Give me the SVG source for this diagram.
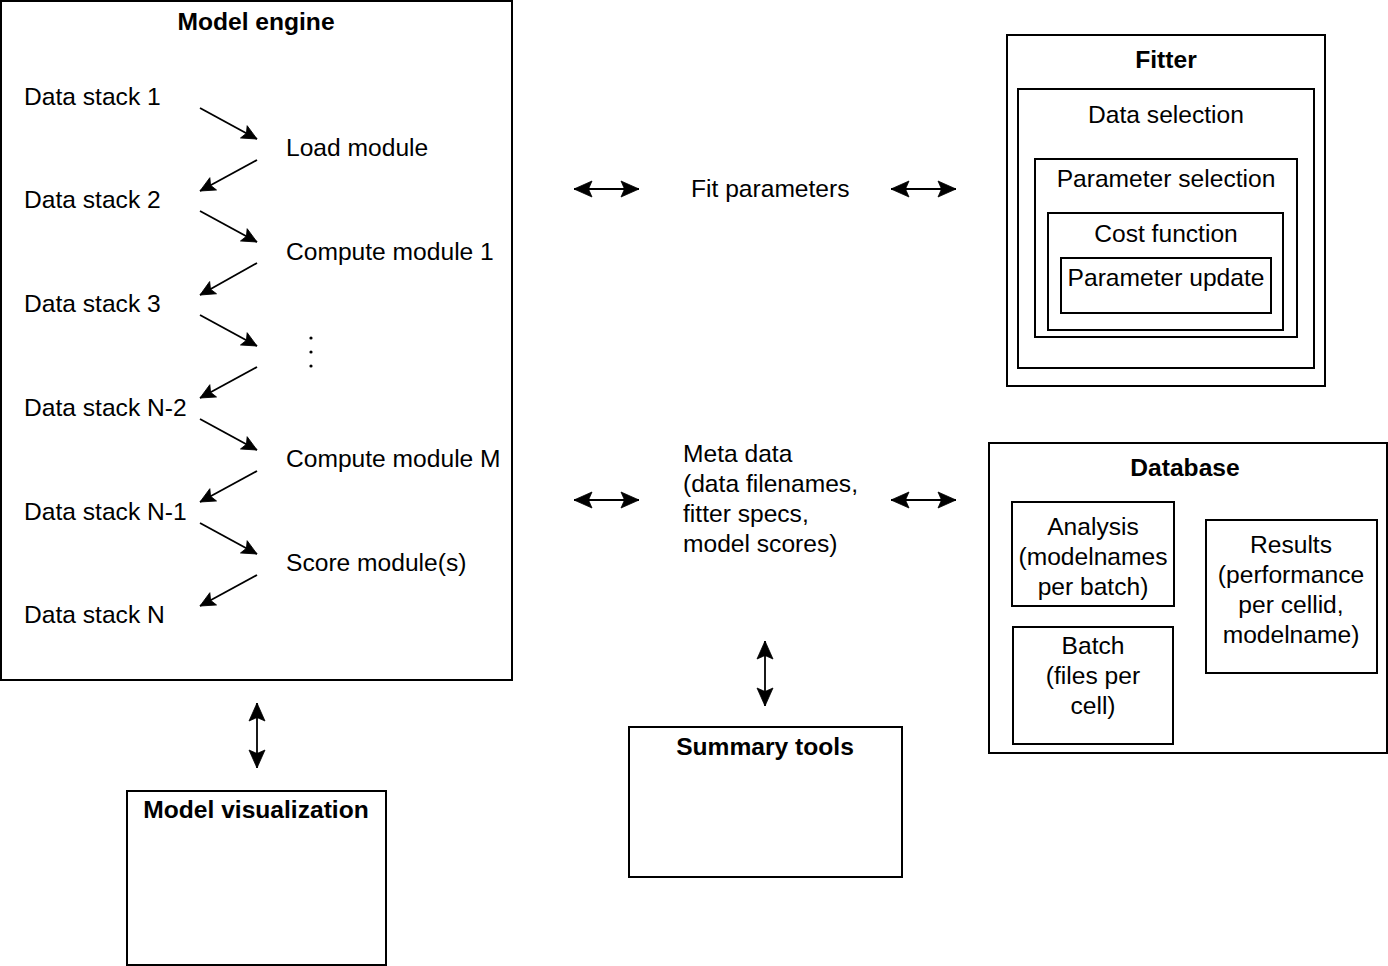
<svg xmlns="http://www.w3.org/2000/svg" width="1388" height="966" viewBox="0 0 1388 966">
<defs>
<style>
text{font-family:"Liberation Sans",Arial,Helvetica,sans-serif;font-size:24.6px;fill:#000}
.b{font-weight:bold}
.c{text-anchor:middle}
.box{fill:#fff;stroke:#000;stroke-width:2}
.ln{stroke:#000;stroke-width:1.8;fill:none}
.sm{marker-end:url(#hs)}
.dbl{marker-start:url(#hl);marker-end:url(#hl)}
</style>
<marker id="hs" viewBox="-16 -8 17 16" refX="0" refY="0" markerWidth="17" markerHeight="16" markerUnits="userSpaceOnUse" orient="auto">
<path d="M0,0 L-15,-7 L-12,0 L-15,7 Z" fill="#000" stroke="#000" stroke-width="0.8" stroke-linejoin="miter"/>
</marker>
<marker id="hl" viewBox="-20 -10 21 20" refX="0" refY="0" markerWidth="21" markerHeight="20" markerUnits="userSpaceOnUse" orient="auto-start-reverse">
<path d="M0,0 L-18,-8 L-14.5,0 L-18,8 Z" fill="#000" stroke="#000" stroke-width="0.8" stroke-linejoin="miter"/>
</marker>
</defs>
<rect width="1388" height="966" fill="#fff"/>

<g id="model-engine">
<rect class="box" x="1" y="1" width="511" height="679"/>
<text class="b c" x="256" y="30">Model engine</text>
<text x="24" y="105">Data stack 1</text>
<text x="24" y="208">Data stack 2</text>
<text x="24" y="312">Data stack 3</text>
<text x="24" y="416">Data stack N-2</text>
<text x="24" y="520">Data stack N-1</text>
<text x="24" y="623">Data stack N</text>
<text x="286" y="156">Load module</text>
<text x="286" y="260">Compute module 1</text>
<circle cx="311" cy="338" r="1.6" fill="#000"/>
<circle cx="311" cy="352" r="1.6" fill="#000"/>
<circle cx="311" cy="366" r="1.6" fill="#000"/>
<text x="286" y="467">Compute module M</text>
<text x="286" y="571">Score module(s)</text>
</g>

<g id="fit-parameters">
<text x="691" y="197">Fit parameters</text>
</g>

<g id="meta-data">
<text x="683" y="462">Meta data</text>
<text x="683" y="492">(data filenames,</text>
<text x="683" y="522">fitter specs,</text>
<text x="683" y="552">model scores)</text>
</g>

<g id="fitter">
<rect class="box" x="1007" y="35" width="318" height="351"/>
<text class="b c" x="1166" y="68">Fitter</text>
<g id="data-selection">
<rect class="box" x="1018" y="89" width="296" height="279"/>
<text class="c" x="1166" y="123">Data selection</text>
</g>
<g id="parameter-selection">
<rect class="box" x="1035" y="159" width="262" height="178"/>
<text class="c" x="1166" y="187">Parameter selection</text>
</g>
<g id="cost-function">
<rect class="box" x="1048" y="213" width="235" height="117"/>
<text class="c" x="1166" y="242">Cost function</text>
</g>
<g id="parameter-update">
<rect class="box" x="1061" y="258" width="210" height="55"/>
<text class="c" x="1166" y="286">Parameter update</text>
</g>
</g>

<g id="database">
<rect class="box" x="989" y="443" width="398" height="310"/>
<text class="b c" x="1185" y="476">Database</text>
<g id="analysis">
<rect class="box" x="1012" y="502" width="162" height="104"/>
<text class="c" x="1093" y="535">Analysis</text>
<text class="c" x="1093" y="565">(modelnames</text>
<text class="c" x="1093" y="595">per batch)</text>
</g>
<g id="batch">
<rect class="box" x="1013" y="627" width="160" height="117"/>
<text class="c" x="1093" y="654">Batch</text>
<text class="c" x="1093" y="684">(files per</text>
<text class="c" x="1093" y="714">cell)</text>
</g>
<g id="results">
<rect class="box" x="1206" y="520" width="171" height="153"/>
<text class="c" x="1291" y="553">Results</text>
<text class="c" x="1291" y="583">(performance</text>
<text class="c" x="1291" y="613">per cellid,</text>
<text class="c" x="1291" y="643">modelname)</text>
</g>
</g>

<g id="model-visualization">
<rect class="box" x="127" y="791" width="259" height="174"/>
<text class="b c" x="256" y="818">Model visualization</text>
</g>

<g id="summary-tools">
<rect class="box" x="629" y="727" width="273" height="150"/>
<text class="b c" x="765" y="755">Summary tools</text>
</g>

<g id="connectors">
<line class="ln sm" x1="200" y1="108" x2="257" y2="139"/>
<line class="ln sm" x1="257" y1="160" x2="200" y2="191"/>
<line class="ln sm" x1="200" y1="211" x2="257" y2="242"/>
<line class="ln sm" x1="257" y1="263" x2="200" y2="295"/>
<line class="ln sm" x1="200" y1="315" x2="257" y2="346"/>
<line class="ln sm" x1="257" y1="367" x2="200" y2="398"/>
<line class="ln sm" x1="200" y1="419" x2="257" y2="450"/>
<line class="ln sm" x1="257" y1="471" x2="200" y2="502"/>
<line class="ln sm" x1="200" y1="523" x2="257" y2="554"/>
<line class="ln sm" x1="257" y1="575" x2="200" y2="606"/>
<line class="ln dbl" x1="574" y1="189" x2="639" y2="189"/>
<line class="ln dbl" x1="891" y1="189" x2="956" y2="189"/>
<line class="ln dbl" x1="574" y1="500" x2="639" y2="500"/>
<line class="ln dbl" x1="891" y1="500" x2="956" y2="500"/>
<line class="ln dbl" x1="765" y1="641" x2="765" y2="706"/>
<line class="ln dbl" x1="257" y1="703" x2="257" y2="768"/>
</g>
</svg>
